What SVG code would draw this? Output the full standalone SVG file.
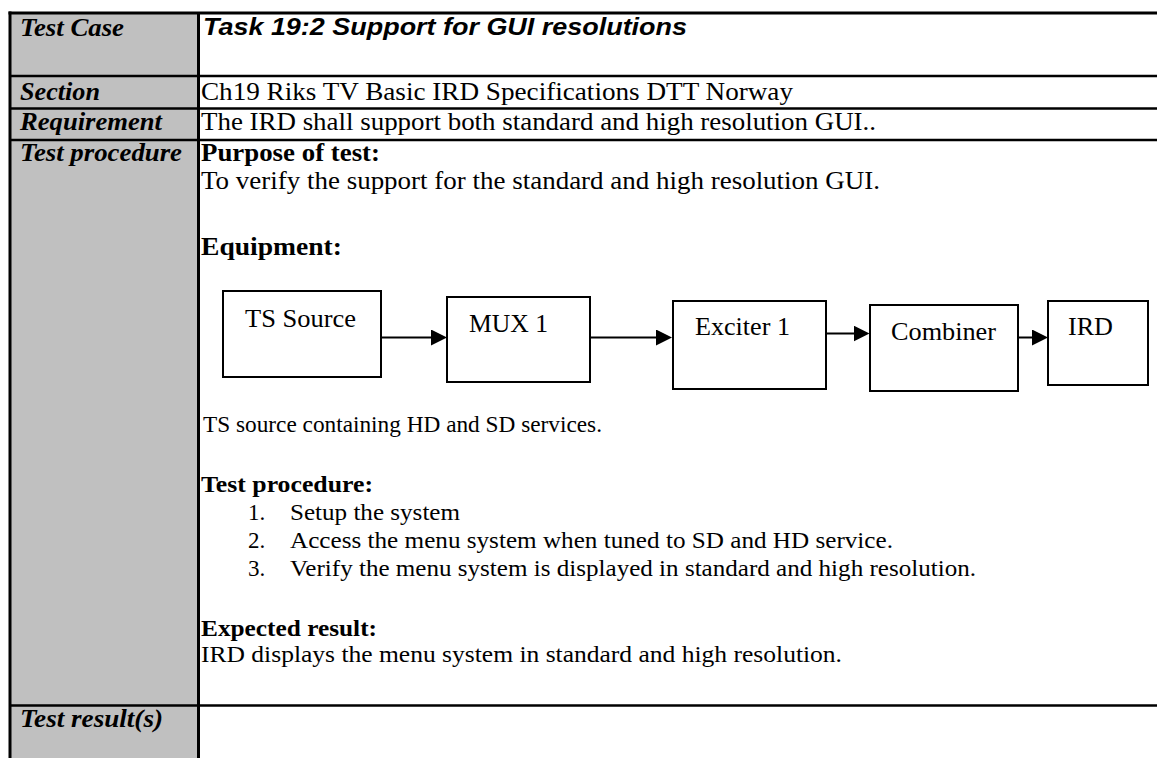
<svg xmlns="http://www.w3.org/2000/svg" width="1157" height="758" viewBox="0 0 1157 758">
<style>
.lbl{font-family:"Liberation Serif","Times New Roman",serif;font-weight:bold;font-style:italic;font-size:24.5px;fill:#000}
.tx{font-family:"Liberation Serif","Times New Roman",serif;font-size:24.5px;fill:#000}
.sm{font-size:23px}
.b{font-weight:bold}
.head{font-family:"Liberation Sans",Arial,sans-serif;font-weight:bold;font-style:italic;font-size:23.5px;fill:#000}
.rule{stroke:#000;stroke-width:2.5;fill:none}
.edge{stroke:#000;stroke-width:3;fill:none}
.box{fill:#fff;stroke:#000;stroke-width:2}
.conn{stroke:#000;stroke-width:2;fill:none;marker-end:url(#ah)}
</style>
<defs>
<marker id="ah" viewBox="0 0 16 16" refX="6" refY="8" markerWidth="16" markerHeight="16" markerUnits="userSpaceOnUse" orient="auto">
<path d="M0,0 L16,8 L0,16 z" fill="#000"/>
</marker>
</defs>
<rect width="1157" height="758" fill="#fff"/>
<g id="table">
<rect x="10" y="13" width="188" height="745" fill="#c0c0c0"/>
<line class="edge" x1="8.5" y1="13" x2="1157" y2="13"/>
<line class="edge" x1="10" y1="11.5" x2="10" y2="758"/>
<line class="edge" x1="198.5" y1="13" x2="198.5" y2="758"/>
<line class="rule" x1="10" y1="76" x2="1157" y2="76"/>
<line class="rule" x1="10" y1="108.5" x2="1157" y2="108.5"/>
<line class="rule" x1="10" y1="140" x2="1157" y2="140"/>
<line class="rule" x1="10" y1="705.5" x2="1157" y2="705.5"/>
</g>
<g id="labels">
<text class="lbl" x="20" y="36" textLength="104" lengthAdjust="spacingAndGlyphs">Test Case</text>
<text class="lbl" x="20" y="100" textLength="80" lengthAdjust="spacingAndGlyphs">Section</text>
<text class="lbl" x="20" y="130" textLength="142" lengthAdjust="spacingAndGlyphs">Requirement</text>
<text class="lbl" x="20" y="161" textLength="162" lengthAdjust="spacingAndGlyphs">Test procedure</text>
<text class="lbl" x="20" y="727" textLength="143" lengthAdjust="spacingAndGlyphs">Test result(s)</text>
</g>
<g id="content">
<text class="head" x="203" y="35" textLength="484" lengthAdjust="spacingAndGlyphs">Task 19:2 Support for GUI resolutions</text>
<text class="tx" x="201" y="100" textLength="592" lengthAdjust="spacingAndGlyphs">Ch19 Riks TV Basic IRD Specifications DTT Norway</text>
<text class="tx" x="201" y="130" textLength="675" lengthAdjust="spacingAndGlyphs">The IRD shall support both standard and high resolution GUI..</text>
<text class="tx b" x="201" y="161" textLength="179" lengthAdjust="spacingAndGlyphs">Purpose of test:</text>
<text class="tx" x="201" y="189" textLength="679" lengthAdjust="spacingAndGlyphs">To verify the support for the standard and high resolution GUI.</text>
<text class="tx b" x="201" y="255" textLength="141" lengthAdjust="spacingAndGlyphs">Equipment:</text>
<text class="tx sm" x="203" y="432" textLength="399" lengthAdjust="spacingAndGlyphs">TS source containing HD and SD services.</text>
<text class="tx sm b" x="201" y="492" textLength="172" lengthAdjust="spacingAndGlyphs">Test procedure:</text>
<text class="tx sm" x="248" y="520">1.</text>
<text class="tx sm" x="290" y="520" textLength="170" lengthAdjust="spacingAndGlyphs">Setup the system</text>
<text class="tx sm" x="248" y="548">2.</text>
<text class="tx sm" x="290" y="548" textLength="603" lengthAdjust="spacingAndGlyphs">Access the menu system when tuned to SD and HD service.</text>
<text class="tx sm" x="248" y="576">3.</text>
<text class="tx sm" x="290" y="576" textLength="686" lengthAdjust="spacingAndGlyphs">Verify the menu system is displayed in standard and high resolution.</text>
<text class="tx sm b" x="201" y="636" textLength="176" lengthAdjust="spacingAndGlyphs">Expected result:</text>
<text class="tx sm" x="201" y="662" textLength="641" lengthAdjust="spacingAndGlyphs">IRD displays the menu system in standard and high resolution.</text>
</g>
<g id="connectors">
<path class="conn" d="M381,337.5 H437"/>
<path class="conn" d="M590,337.5 H662"/>
<path class="conn" d="M826,333.5 H859.5"/>
<path class="conn" d="M1019,337.5 H1038"/>
</g>
<g id="node-ts-source">
<rect class="box" x="223" y="291" width="158" height="86"/>
<text class="tx" x="245" y="327" textLength="111" lengthAdjust="spacingAndGlyphs">TS Source</text>
</g>
<g id="node-mux1">
<rect class="box" x="447" y="297" width="143" height="85"/>
<text class="tx" x="469" y="332" textLength="79" lengthAdjust="spacingAndGlyphs">MUX 1</text>
</g>
<g id="node-exciter1">
<rect class="box" x="673" y="301" width="153" height="88"/>
<text class="tx" x="695" y="335" textLength="95" lengthAdjust="spacingAndGlyphs">Exciter 1</text>
</g>
<g id="node-combiner">
<rect class="box" x="870" y="305" width="148" height="86"/>
<text class="tx" x="891" y="340" textLength="105" lengthAdjust="spacingAndGlyphs">Combiner</text>
</g>
<g id="node-ird">
<rect class="box" x="1048" y="301" width="100" height="84"/>
<text class="tx" x="1068" y="335" textLength="45" lengthAdjust="spacingAndGlyphs">IRD</text>
</g>
</svg>
